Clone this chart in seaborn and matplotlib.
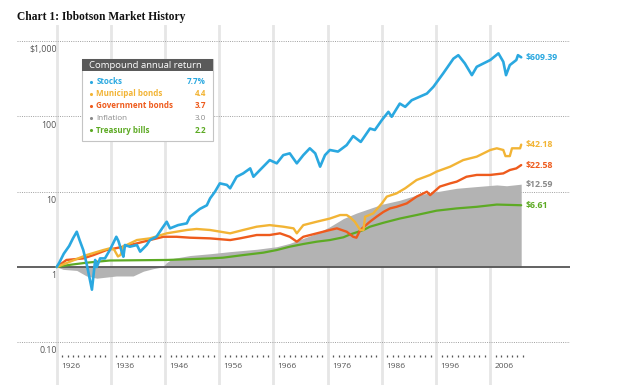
import numpy as np
import pandas as pd
import matplotlib
matplotlib.use("Agg")
import matplotlib.pyplot as plt
from matplotlib.patches import Rectangle
import seaborn as sns

# values (growth of $1, log scale)
stocks_yr = [1926.0, 1926.5, 1927.3, 1928.3, 1929.0, 1929.7, 1930.2, 1930.9, 1931.5, 1932.0,
             1932.5, 1933.1, 1933.4, 1934.0, 1934.9, 1935.8, 1937.0, 1937.4, 1938.0, 1938.3,
             1938.6, 1939.5, 1940.8, 1941.4, 1942.6, 1943.2, 1944.4, 1945.5, 1946.3, 1946.9,
             1948.4, 1950.0, 1950.6, 1952.4, 1953.7, 1954.3, 1955.2, 1956.1, 1957.4, 1958.0,
             1959.2, 1960.4, 1961.7, 1962.3, 1963.5, 1965.3, 1966.6, 1967.8, 1969.0, 1970.3,
             1971.5, 1972.7, 1973.7, 1974.6, 1975.5, 1976.4, 1977.9, 1979.5, 1980.7, 1982.1,
             1983.8, 1984.7, 1986.0, 1987.2, 1987.8, 1989.3, 1990.3, 1991.5, 1994.3, 1995.5,
             1997.3, 1999.2, 2000.1, 2001.3, 2002.6, 2003.5, 2006.0, 2007.5, 2008.4, 2008.9,
             2009.6, 2010.8, 2011.1, 2011.7]
stocks = [1.0, 1.15, 1.5, 1.9, 2.4, 2.94, 2.3, 1.68, 1.12, 0.75,
          0.50, 1.24, 1.0, 1.3, 1.3, 1.68, 2.52, 2.2, 1.6, 1.37,
          1.96, 1.86, 1.96, 1.6, 1.96, 2.28, 2.52, 3.3, 3.99, 3.26,
          3.6, 3.8, 4.65, 5.9, 6.6, 8.15, 10.0, 12.9, 12.3, 11.1,
          15.8, 17.5, 20.4, 15.8, 19.4, 26.3, 23.8, 30.6, 32.3, 23.8,
          30.6, 37.7, 32.3, 21.5, 30.6, 35.8, 34.1, 41.6, 54.8, 45.8,
          69, 66, 89.5, 115, 98.9, 148, 134, 164, 201, 247,
          372, 585, 650, 506, 353, 456, 561, 687, 531, 353,
          480, 561, 650, 609.39]

muni_yr = [1926.0, 1928.5, 1931.5, 1934.6, 1935.8, 1936.6, 1937.3, 1937.8, 1938.3, 1938.9,
           1940.8, 1943.2, 1946.3, 1950.0, 1951.8, 1954.3, 1958.0, 1960.4, 1962.9, 1965.3,
           1967.8, 1969.7, 1970.3, 1971.5, 1974.0, 1976.4, 1978.3, 1979.5, 1980.1, 1981.0,
           1982.0, 1982.6, 1982.9, 1984.4, 1986.0, 1986.9, 1988.7, 1990.3, 1992.4, 1994.9,
           1996.1, 1998.6, 2001.0, 2003.5, 2006.0, 2007.2, 2008.4, 2008.8, 2009.6, 2010.0,
           2011.5, 2011.7]
muni = [1.0, 1.18, 1.44, 1.68, 1.77, 1.7, 1.38, 1.45, 1.9, 1.96,
        2.28, 2.4, 2.8, 3.1, 3.2, 3.1, 2.8, 3.1, 3.43, 3.6,
        3.43, 3.26, 2.8, 3.6, 4.0, 4.4, 4.9, 4.9, 4.6, 4.0,
        3.1, 3.1, 4.65, 5.15, 7.0, 8.6, 9.5, 11.1, 14.3, 16.7,
        18.5, 21.5, 26.3, 29.2, 35.8, 37.7, 35.8, 29.7, 29.7, 37.7,
        37.7, 42.18]

govt_yr = [1926.0, 1927.8, 1930.9, 1932.8, 1935.2, 1938.3, 1940.8, 1943.2, 1945.7, 1948.1,
           1950.6, 1954.3, 1958.0, 1959.8, 1962.9, 1965.3, 1967.2, 1969.0, 1970.3, 1971.5,
           1974.0, 1976.4, 1977.7, 1979.5, 1980.7, 1981.3, 1982.0, 1983.8, 1985.0, 1986.3,
           1987.5, 1988.7, 1990.6, 1992.4, 1994.3, 1994.9, 1996.7, 1998.6, 1999.8, 2001.6,
           2003.5, 2006.0, 2008.4, 2009.6, 2010.8, 2011.7]
govt = [1.0, 1.24, 1.3, 1.44, 1.68, 1.86, 2.06, 2.28, 2.52, 2.52,
        2.45, 2.4, 2.28, 2.4, 2.66, 2.66, 2.8, 2.52, 2.17, 2.52,
        2.8, 3.1, 3.26, 2.94, 2.52, 2.45, 3.1, 4.0, 4.65, 5.4,
        6.0, 6.3, 7.0, 8.6, 10.0, 9.0, 11.7, 12.9, 13.6, 15.8,
        16.7, 16.7, 17.5, 19.4, 20.4, 22.58]

infl_yr = [1926.0, 1927.2, 1929.7, 1931.5, 1933.4, 1937.0, 1940.1, 1942.0, 1943.8, 1945.5,
           1946.3, 1947.5, 1950.6, 1954.3, 1958.0, 1962.9, 1966.6, 1969.0, 1971.5, 1974.0,
           1976.4, 1978.9, 1981.3, 1986.0, 1989.3, 1992.4, 1996.1, 1999.8, 2003.5, 2007.2,
           2009.0, 2011.7]
infl = [1.0, 0.93, 0.9, 0.76, 0.71, 0.76, 0.76, 0.88, 0.95, 1.0,
        1.15, 1.3, 1.42, 1.5, 1.6, 1.72, 1.86, 2.06, 2.4, 2.8,
        3.43, 4.4, 5.2, 6.8, 7.7, 9.0, 10.0, 11.1, 11.7, 12.3,
        12.0, 12.59]

tbill_yr = [1926.0, 1928.5, 1931.5, 1935.8, 1946.3, 1950.6, 1954.3, 1956.7, 1960.4, 1964.1,
            1966.6, 1969.0, 1971.5, 1974.0, 1976.4, 1978.9, 1980.1, 1982.6, 1983.8, 1986.3,
            1989.3, 1992.4, 1996.1, 1999.8, 2003.5, 2006.0, 2007.2, 2011.7]
tbill = [1.0, 1.07, 1.14, 1.22, 1.24, 1.27, 1.3, 1.33, 1.44, 1.55,
         1.68, 1.86, 2.02, 2.17, 2.28, 2.48, 2.7, 3.1, 3.43, 3.87,
         4.4, 4.9, 5.6, 6.0, 6.3, 6.6, 6.75, 6.61]

names = ["Stocks", "Municipal bonds", "Government bonds", "Inflation", "Treasury bills"]
returns = ["7.7%", "4.4", "3.7", "3.0", "2.2"]
end_labels = ["$609.39", "$42.18", "$22.58", "$12.59", "$6.61"]
colors = ["#2AA8E0", "#F2B435", "#EE5B1D", "#8A8A8A", "#5DAA24"]

decades = [1926, 1936, 1946, 1956, 1966, 1976, 1986, 1996, 2006]
y_ticks = [1000, 100, 10, 1, 0.1]
y_labels = ["$1,000", "100", "10", "1", "0.10"]

sns.set_style("white")
plt.rcParams["font.family"] = ["Open Sans", "DejaVu Sans"]

W, H = 624, 385
fig = plt.figure(figsize=(W / 100, H / 100), dpi=100)

# main axes, pixel based layout: 1926 at x=56.7, 5.42 px/yr, $1 at y=267, 75.3 px/decade
ax = fig.add_axes([17 / W, 0, 553 / W, 360 / H])
ax.set_yscale("log")
ax.set_xlim(1926 - 39.7 / 5.42, 1926 + 513.3 / 5.42)
ax.set_ylim(10 ** (-118 / 75.3), 10 ** (242 / 75.3))
ax.axis("off")

for d in decades:
    ax.axvline(d, color="#e6e6e6", lw=2.0, zorder=0)
for v in y_ticks:
    if v == 1:
        ax.axhline(v, color="#555555", lw=1.3, zorder=3)
    else:
        ax.axhline(v, color="#a0a0a0", lw=0.7, ls=(0, (1, 1.3)), zorder=1)

# inflation as grey area
ax.fill_between(infl_yr, 1, infl, color="#b3b3b3", lw=0, zorder=1)

series = [(stocks_yr, stocks), (muni_yr, muni), (govt_yr, govt), (tbill_yr, tbill)]
cols = [colors[0], colors[1], colors[2], colors[4]]
widths = [1.9, 1.7, 1.7, 1.6]
for (xs, ys), c, w in zip(series[::-1], cols[::-1], widths[::-1]):
    sns.lineplot(x=xs, y=ys, color=c, lw=w, sort=False, ax=ax, zorder=4)

# end value labels
ends = [(stocks_yr, stocks), (muni_yr, muni), (govt_yr, govt), (infl_yr, infl), (tbill_yr, tbill)]
for (xs, ys), lab, c in zip(ends, end_labels, colors):
    ax.annotate(lab, (xs[-1], ys[-1]), xytext=(3.5, 0), textcoords="offset points",
                ha="left", va="center", color=c, fontsize=6.3, fontweight="bold")

# y labels sit under their lines
for v, lab in zip(y_ticks, y_labels):
    ax.annotate(lab, (1926, v), xytext=(0, -3), textcoords="offset points",
                ha="right", va="top", color="#555555", fontsize=6.3)

# year labels and the little yearly tick marks
tick_y = 10 ** (-89 / 75.3)
lab_y = 10 ** (-100 / 75.3)
tick_years = [d + k for d in decades for k in range(1, 10) if d + k <= 2012]
ax.scatter(tick_years, [tick_y] * len(tick_years), marker="|", s=4, color="#555555", lw=0.9)
for d in decades:
    ax.annotate(str(d), (d, lab_y), xytext=(3, 0), textcoords="offset points",
                ha="left", va="center", color="#555555", fontsize=6)

fig.text(17 / W, 1 - 17 / H, "Chart 1: Ibbotson Market History", ha="left", va="center",
         fontsize=8.3, fontweight="bold", family="Liberation Serif", color="#111111")

# legend box
lg = fig.add_axes([82 / W, 1 - 141 / H, 131 / W, 82 / H])
lg.set_xlim(0, 131)
lg.set_ylim(82, 0)
lg.axis("off")
lg.add_patch(Rectangle((1.2, 1.2), 131, 82, facecolor="#dcdcdc", edgecolor="none", clip_on=False))
lg.add_patch(Rectangle((0, 0), 131, 82, facecolor="white", edgecolor="#c4c4c4", lw=0.8, clip_on=False))
lg.add_patch(Rectangle((0, 0), 131, 12, facecolor="#5a5a5a", edgecolor="none", clip_on=False))
lg.text(7, 6.2, "Compound annual return", color="white", fontsize=6.8, va="center", ha="left")
for i, (n, r, c) in enumerate(zip(names, returns, colors)):
    yy = 22.5 + i * 12.2
    wt = "normal" if n == "Inflation" else "bold"
    lg.scatter([8.7], [yy], s=5, color=c, lw=0)
    lg.text(14.5, yy, n, color=c, fontsize=5.8, fontweight=wt, va="center", ha="left")
    lg.text(124, yy, r, color=c, fontsize=5.8, fontweight=wt, va="center", ha="right")

fig.savefig("out.png", dpi=100)
